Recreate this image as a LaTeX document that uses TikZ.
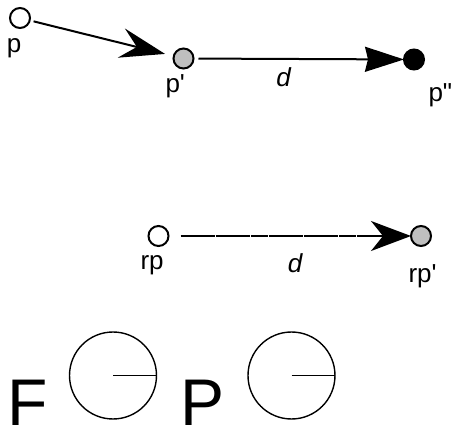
\documentclass[tikz,border=0pt]{standalone}
\usepackage{fontspec}
\newfontfamily\lab{Liberation Sans}
\usetikzlibrary{arrows.meta}
\definecolor{dotgrey}{HTML}{BFBFBF}
\begin{document}
\begin{tikzpicture}[x=1pt,y=-1pt,
  dot/.style={circle,draw=black,line width=2pt,minimum size=20pt,inner sep=0pt,outer sep=0pt},
  lbl/.style={inner sep=0pt,anchor=base west,font=\lab\fontsize{26}{28}\selectfont},
  big/.style={inner sep=0pt,anchor=base west,font=\lab\fontsize{66}{70}\selectfont},
  conn/.style={line width=2pt},
  ring/.style={circle,draw=black,line width=1.4pt,minimum size=87pt,inner sep=0pt,outer sep=0pt},
  spoke/.style={line width=1.4pt}]
\useasboundingbox (0,0) rectangle (451,428);
% top row
\node[dot,fill=white] (p) at (20,18) {};
\node[dot,fill=dotgrey] (p1) at (183.5,58.5) {};
\node[dot,fill=black] (p2) at (414,59.5) {};
\node[lbl] (lp) at (6.6,52.8) {p};
\node[lbl] (lp1) at (165.3,92.5) {p'};
\node[lbl,anchor=base] (ld1) at (283.5,87) {\itshape d};
\node[lbl] (lp2) at (428.3,101.5) {p"};
\draw[conn,shorten <=4pt,shorten >=9pt,-{Stealth[length=45pt,width=30pt,inset=16pt]}] (p) -- (p1);
\draw[conn,shorten <=5pt,shorten >=0pt,-{Stealth[length=39pt,width=25pt,inset=3pt]}] (p1) -- (p2);
% middle row
\node[dot,fill=white] (rp) at (158.5,236) {};
\node[dot,fill=dotgrey] (rp1) at (421,236) {};
\node[lbl] (lrp) at (140.3,270) {rp};
\node[lbl,anchor=base] (ld2) at (295,273) {\itshape d};
\node[lbl] (lrp1) at (408.3,282.5) {rp'};
\draw[conn,dash pattern=on 17pt off 0.6pt,shorten <=12pt,-{Stealth[length=40pt,width=30pt,inset=12pt]}] (rp) -- (rp1);
% bottom row
\node[big] (F) at (6.8,426) {F};
\node[ring] (c1) at (113,375.5) {};
\draw[spoke] (c1.center) -- (c1.east);
\node[big] (P) at (180,426) {P};
\node[ring] (c2) at (291.5,375.5) {};
\draw[spoke] (c2.center) -- (c2.east);
\end{tikzpicture}
\end{document}
